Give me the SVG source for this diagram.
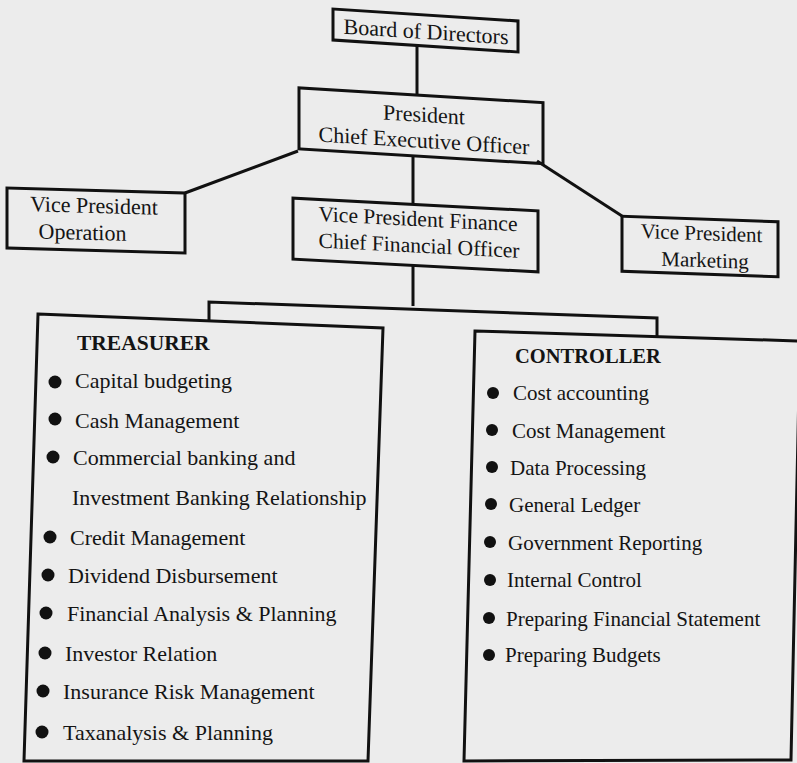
<svg xmlns="http://www.w3.org/2000/svg" width="797" height="763" viewBox="0 0 797 763">
  <style>
    .box { fill: none; stroke: #111; stroke-width: 3; stroke-linejoin: miter; }
    .wire { fill: none; stroke: #111; stroke-width: 3; }
    .t { font-family: "Liberation Serif", "Times New Roman", serif; fill: #141414; }
    .c { text-anchor: middle; }
    .head { font-weight: bold; }
    .dot { fill: #111; }
  </style>
  <rect x="0" y="0" width="797" height="763" fill="#ececec"/>

  <!-- connectors -->
  <g id="connectors">
    <path class="wire" d="M417 46 V95"/>
    <path class="wire" d="M298 151 L185 193"/>
    <path class="wire" d="M413 156 V205"/>
    <path class="wire" d="M537 161 L622 216"/>
    <path class="wire" d="M413 265 V306"/>
    <path class="wire" d="M209 321 V302 L657 318 V337"/>
  </g>

  <!-- top of the chart -->
  <g id="board" transform="translate(425.5 30.5) skewY(3.7)">
    <rect class="box" x="-92.5" y="-15.5" width="185" height="31"/>
    <text class="t c" x="0.5" y="8.5" font-size="22">Board of Directors</text>
  </g>

  <g id="president" transform="translate(421 125.75) skewY(3.5)">
    <rect class="box" x="-122" y="-30.5" width="244" height="61"/>
    <text class="t c" x="3" y="-4" font-size="22">President</text>
    <text class="t c" x="3" y="22" font-size="22">Chief Executive Officer</text>
  </g>

  <g id="vp-operation" transform="translate(96 220.5) skewY(1.6)">
    <rect class="box" x="-89" y="-30" width="178" height="60"/>
    <text class="t c" x="-2" y="-7.5" font-size="22">Vice President</text>
    <text class="t c" x="-13.5" y="19.5" font-size="22">Operation</text>
  </g>

  <g id="vp-finance" transform="translate(415.5 235) skewY(3)">
    <rect class="box" x="-122.5" y="-30.5" width="245" height="61"/>
    <text class="t c" x="2.5" y="-9" font-size="21.6">Vice President Finance</text>
    <text class="t c" x="3.5" y="17.5" font-size="21.6">Chief Financial Officer</text>
  </g>

  <g id="vp-marketing" transform="translate(700 246.5) skewY(2)">
    <rect class="box" x="-78" y="-27.5" width="156" height="55"/>
    <text class="t c" x="1.5" y="-6.5" font-size="21">Vice President</text>
    <text class="t c" x="5" y="20.5" font-size="21">Marketing</text>
  </g>

  <!-- treasurer duties -->
  <g id="treasurer">
    <polygon class="box" points="38,314 383,328 368,761 24,761"/>
    <text class="t head" x="77" y="350" font-size="21.5">TREASURER</text>
    <circle class="dot" cx="55" cy="382" r="6.5"/>
    <text class="t" x="75" y="388" font-size="22">Capital budgeting</text>
    <circle class="dot" cx="55" cy="419" r="6.5"/>
    <text class="t" x="75" y="428" font-size="22">Cash Management</text>
    <circle class="dot" cx="53" cy="457" r="6.5"/>
    <text class="t" x="73" y="465" font-size="22">Commercial banking and</text>
    <text class="t" x="72" y="505" font-size="22">Investment Banking Relationship</text>
    <circle class="dot" cx="50" cy="537" r="6.5"/>
    <text class="t" x="70" y="545" font-size="22">Credit Management</text>
    <circle class="dot" cx="48" cy="575" r="6.5"/>
    <text class="t" x="68" y="583" font-size="22">Dividend Disbursement</text>
    <circle class="dot" cx="46" cy="613" r="6.5"/>
    <text class="t" x="67" y="621" font-size="22">Financial Analysis &amp; Planning</text>
    <circle class="dot" cx="45" cy="653" r="6.5"/>
    <text class="t" x="65" y="661" font-size="22">Investor Relation</text>
    <circle class="dot" cx="43" cy="691" r="6.5"/>
    <text class="t" x="63" y="699" font-size="22">Insurance Risk Management</text>
    <circle class="dot" cx="42" cy="732" r="6.5"/>
    <text class="t" x="63" y="740" font-size="22">Taxanalysis &amp; Planning</text>
  </g>

  <!-- controller duties -->
  <g id="controller">
    <polygon class="box" points="475,331 800,341 791,760 464,761"/>
    <text class="t head" x="515" y="363" font-size="20.5">CONTROLLER</text>
    <circle class="dot" cx="493" cy="393" r="6"/>
    <text class="t" x="513" y="400" font-size="21">Cost accounting</text>
    <circle class="dot" cx="492" cy="430" r="6"/>
    <text class="t" x="512" y="438" font-size="21">Cost Management</text>
    <circle class="dot" cx="492" cy="467" r="6"/>
    <text class="t" x="510" y="475" font-size="21">Data Processing</text>
    <circle class="dot" cx="491" cy="504" r="6"/>
    <text class="t" x="509" y="512" font-size="21">General Ledger</text>
    <circle class="dot" cx="490" cy="542" r="6"/>
    <text class="t" x="508" y="550" font-size="21">Government Reporting</text>
    <circle class="dot" cx="490" cy="580" r="6"/>
    <text class="t" x="507" y="587" font-size="21">Internal Control</text>
    <circle class="dot" cx="489" cy="618" r="6"/>
    <text class="t" x="506" y="626" font-size="21">Preparing Financial Statement</text>
    <circle class="dot" cx="489" cy="655" r="6"/>
    <text class="t" x="505" y="662" font-size="21">Preparing Budgets</text>
  </g>
</svg>
